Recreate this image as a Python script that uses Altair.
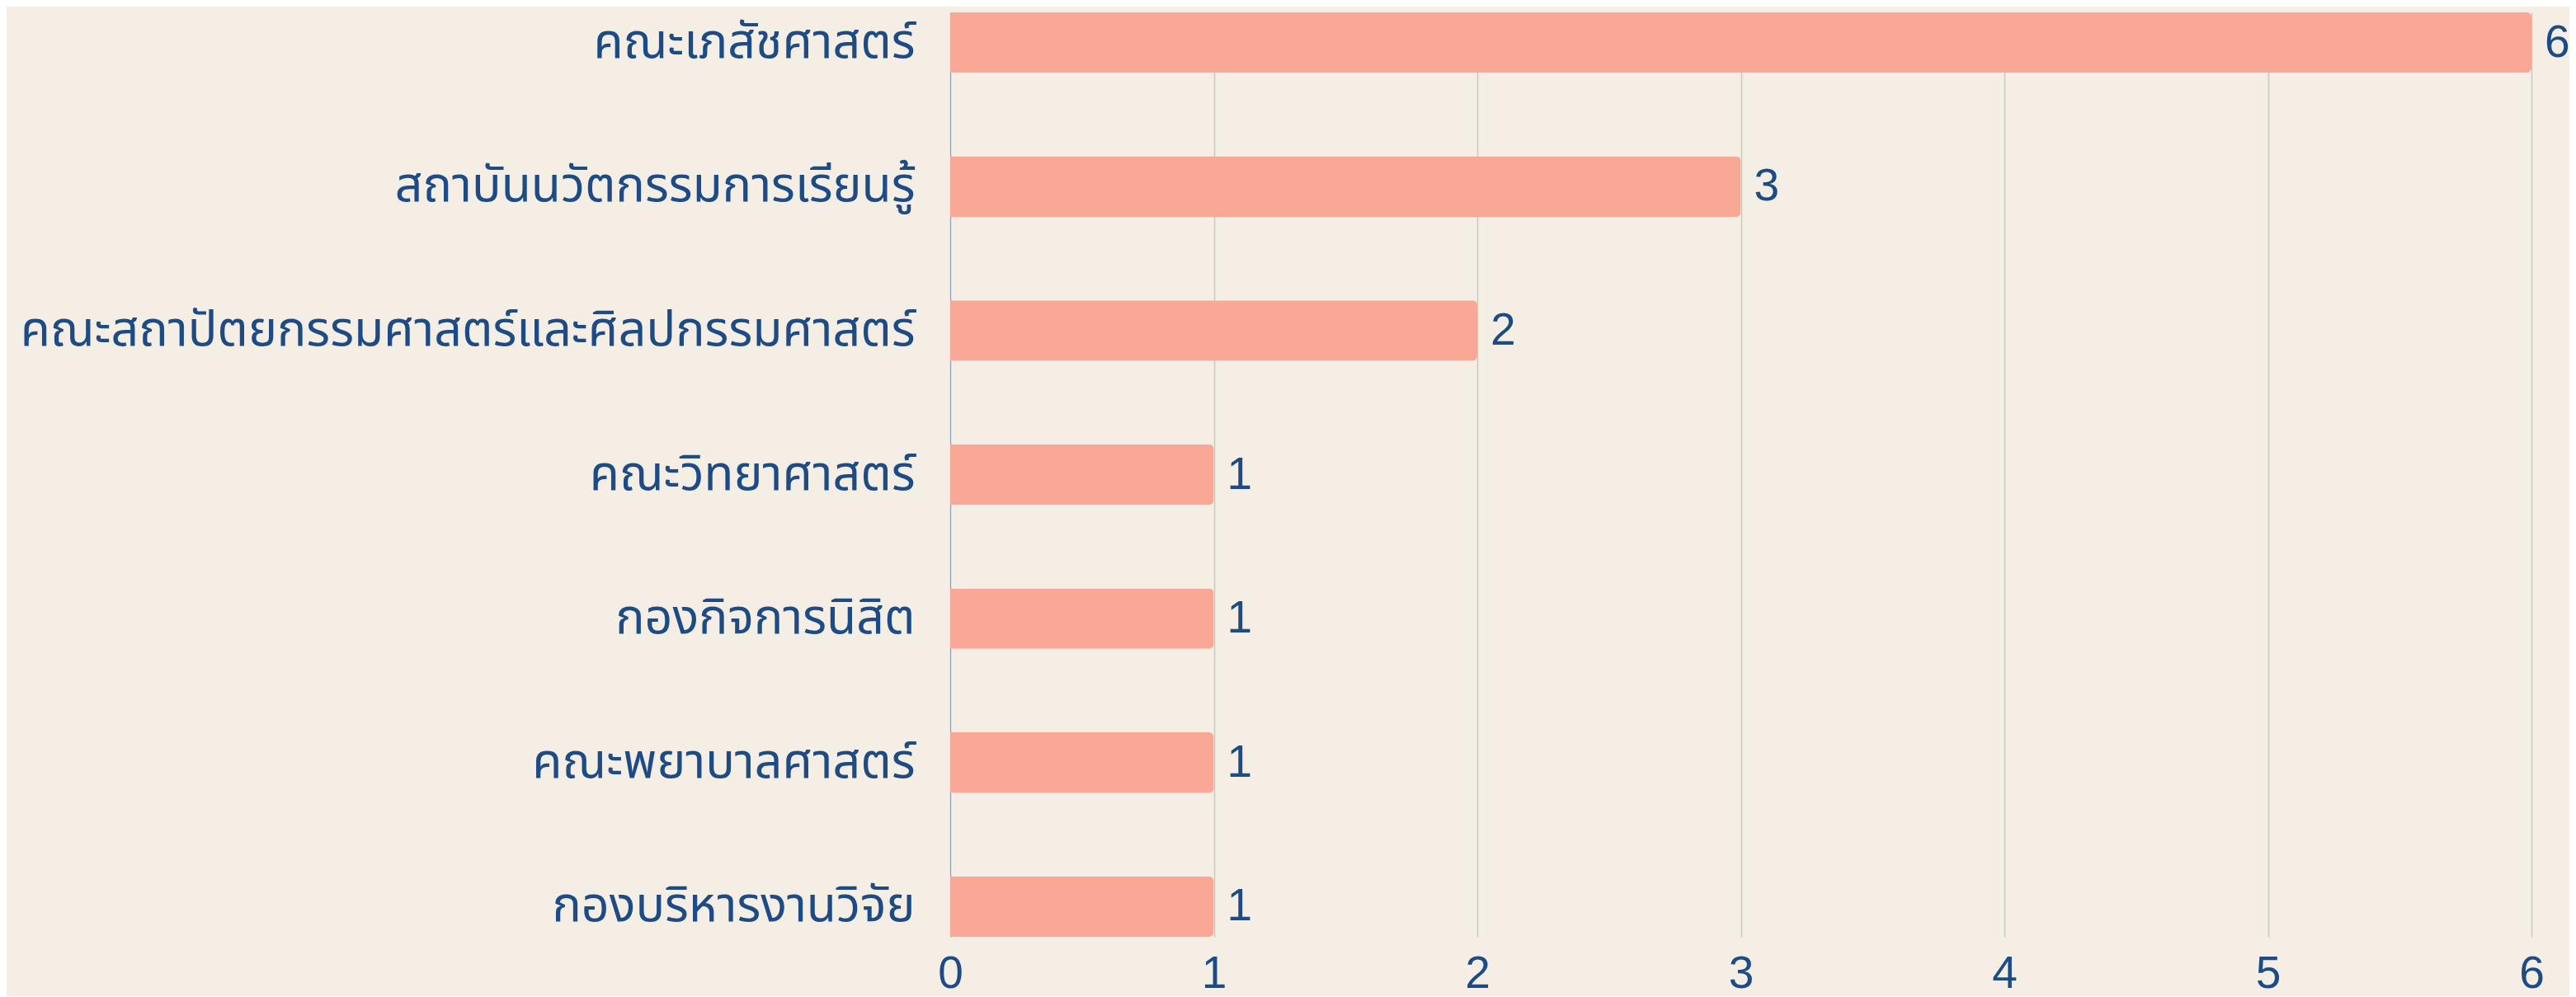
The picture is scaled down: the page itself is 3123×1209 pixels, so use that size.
import altair as alt
import pandas as pd

categories = [
    "คณะเภสัชศาสตร์",
    "สถาบันนวัตกรรมการเรียนรู้",
    "คณะสถาปัตยกรรมศาสตร์และศิลปกรรมศาสตร์",
    "คณะวิทยาศาสตร์",
    "กองกิจการนิสิต",
    "คณะพยาบาลศาสตร์",
    "กองบริหารงานวิจัย",
]
values = [6, 3, 2, 1, 1, 1, 1]
x_ticks = [0, 1, 2, 3, 4, 5, 6]

df = pd.DataFrame({"unit": categories, "count": values})

TEXT = "#1d4b85"
BAR = "#f9a896"
BG = "#f5eee5"
FONT = "Noto Sans Thai, Noto Sans Thai UI, Noto Sans"

y_enc = alt.Y(
    "unit:N",
    sort=categories,
    title=None,
    scale=alt.Scale(paddingInner=0.58, paddingOuter=0),
    axis=alt.Axis(
        ticks=False,
        labelFontSize=59,
        labelColor=TEXT,
        labelFont=FONT,
        labelPadding=43,
        labelLimit=2000,
        domain=True,
        domainColor="#8aa0b8",
        domainWidth=1,
        grid=False,
    ),
)

x_enc = alt.X(
    "count:Q",
    title=None,
    scale=alt.Scale(domain=[0, 6], nice=False),
    axis=alt.Axis(
        values=x_ticks,
        format="d",
        ticks=False,
        domain=False,
        labelFontSize=55,
        labelColor=TEXT,
        labelFont="Liberation Sans",
        labelPadding=18,
        grid=True,
        gridColor="#c9c9c4",
        gridWidth=1.5,
        labelFlush=False,
    ),
)

bars = alt.Chart(df).mark_bar(color=BAR, cornerRadiusEnd=6).encode(x=x_enc, y=y_enc)

labels = alt.Chart(df).mark_text(
    align="left", baseline="middle", dx=16, fontSize=55, color=TEXT, font="Liberation Sans"
).encode(
    x=alt.X("count:Q"),
    y=alt.Y("unit:N", sort=categories),
    text=alt.Text("count:Q"),
)

chart = (
    alt.layer(bars, labels)
    .properties(
        width=1917,
        height=1121,
        background=BG,
        autosize=alt.AutoSizeParams(type="none"),
        padding={"left": 1144, "top": 7, "right": 46, "bottom": 72},
    )
    .configure_view(stroke=None)
)

chart.save("out.html", embed_options={"renderer": "svg", "actions": False})
